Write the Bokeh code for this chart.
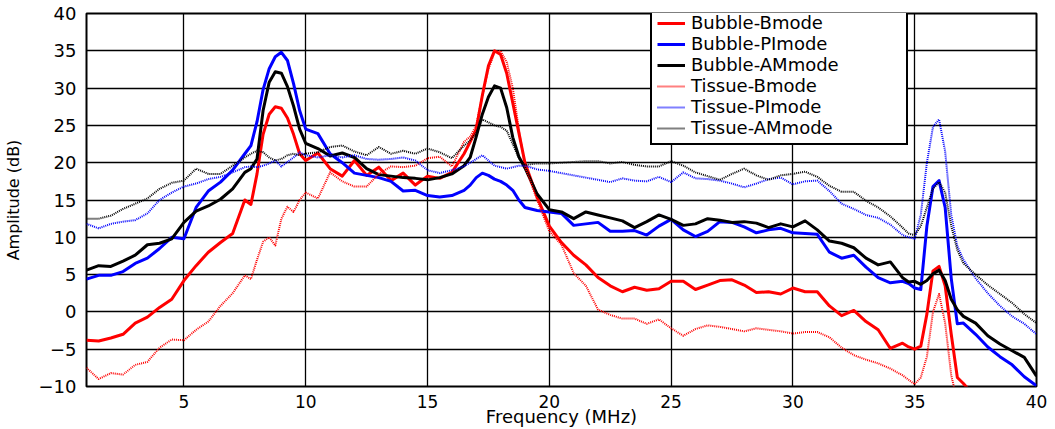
from bokeh.plotting import figure
from bokeh.models import Range1d, FixedTicker, Legend, LegendItem
from bokeh.embed import file_html
from bokeh.resources import INLINE

nan = float("nan")

freq = [1, 1.5, 2, 2.5, 3, 3.5, 4, 4.5, 5, 5.5, 6, 6.5, 7, 7.5,
        7.75, 8, 8.25, 8.5, 8.75, 9, 9.25, 9.5, 9.75, 10,
        10.5, 11, 11.5, 12, 12.5, 13, 13.5, 14, 14.5, 15, 15.5, 16, 16.5,
        16.75, 17, 17.25, 17.5, 17.75, 18, 18.25, 18.5, 18.75, 19,
        19.5, 20, 20.5, 21, 21.5, 22, 22.5, 23, 23.5, 24, 24.5, 25, 25.5, 26, 26.5,
        27, 27.5, 28, 28.5, 29, 29.5, 30, 30.5, 31, 31.5, 32, 32.5, 33, 33.5, 34, 34.5,
        34.75, 35, 35.25, 35.5, 35.75, 36, 36.25, 36.5, 36.75, 37,
        37.5, 38, 38.5, 39, 39.5, 40]

bubble_bmode = [-3.8, -3.9, -3.5, -3.0, -1.5, -0.7, 0.6, 1.7, 4.2, 6.2, 8.0, 9.3, 10.5, 15.0,
                14.4, 18.5, 23.8, 26.5, 27.5, 27.3, 26.0, 23.8, 21.2, 20.3,
                21.3, 19.2, 18.2, 20.3, 18.3, 19.4, 17.6, 18.6, 17.0, 18.2, 17.9, 18.7, 21.2,
                22.8, 24.5, 29.0, 33.0, 35.0, 34.5, 32.0, 28.0, 24.0, 20.0,
                15.4, 11.5, 9.3, 7.6, 6.3, 4.6, 3.5, 2.7, 3.3, 2.9, 3.1, 4.1, 4.1, 3.0, 3.6,
                4.2, 4.3, 3.6, 2.6, 2.7, 2.4, 3.2, 2.7, 2.7, 0.8, -0.5, 0.2, -1.3, -2.4, -4.9, -4.2,
                -4.7, -5.0, -4.6, -0.3, 5.5, 6.1, 3.5, -3.0, -8.8, -9.6,
                -11.5, nan, nan, nan, nan, nan]

bubble_pimode = [4.4, 4.9, 4.9, 5.4, 6.5, 7.2, 8.5, 10.0, 9.8, 14.0, 16.2, 17.4, 19.0, 21.2,
                 22.3, 25.5, 29.8, 32.6, 34.2, 34.8, 33.7, 30.6, 27.0, 24.5,
                 23.9, 21.2, 20.0, 18.6, 18.3, 18.0, 17.5, 16.2, 16.3, 15.6, 15.4, 15.6, 16.3,
                 17.0, 18.0, 18.6, 18.3, 17.8, 17.5, 17.0, 16.3, 15.0, 14.0,
                 13.6, 13.4, 13.2, 11.6, 11.8, 12.0, 10.8, 10.8, 10.9, 10.3, 11.5, 12.4, 11.0, 10.1, 10.8,
                 12.1, 12.0, 11.4, 10.6, 11.0, 11.2, 10.6, 10.5, 10.4, 8.0, 7.2, 7.6, 6.0, 4.6, 3.9, 4.1,
                 3.8, 3.2, 3.0, 11.5, 16.8, 17.6, 14.0, 4.5, -1.6, -1.5,
                 -3.0, -4.7, -6.0, -7.1, -8.7, -9.9]

bubble_ammode = [5.6, 6.2, 6.1, 6.8, 7.6, 9.0, 9.2, 9.8, 12.0, 13.5, 14.2, 15.1, 16.5, 18.7,
                 19.2, 20.5, 27.0, 30.8, 32.2, 32.0, 30.2, 27.6, 24.5, 22.6,
                 21.9, 20.9, 21.3, 20.7, 19.2, 18.4, 18.2, 18.0, 17.9, 17.7, 18.0, 18.5, 19.6,
                 20.7, 23.5, 26.5, 28.8, 30.3, 30.0, 27.4, 23.4, 20.8, 19.3,
                 15.8, 13.7, 13.4, 12.5, 13.4, 13.0, 12.6, 12.2, 11.3, 12.1, 13.0, 12.4, 11.6, 11.8, 12.5,
                 12.3, 12.0, 12.1, 11.9, 11.3, 11.8, 11.4, 12.2, 11.0, 9.5, 9.2, 8.6, 7.2, 6.3, 6.7, 4.6,
                 4.0, 4.1, 3.7, 4.2, 5.1, 5.6, 4.2, 1.7, 0.3, -0.6,
                 -1.5, -3.2, -4.3, -5.2, -6.1, -8.6]

tissue_bmode = [-7.5, -9.0, -8.2, -8.4, -7.1, -6.7, -4.8, -3.7, -3.8, -2.4, -1.3, 0.8, 2.5, 4.9,
                4.4, 7.0, 9.4, 10.0, 8.9, 12.5, 14.1, 13.4, 15.0, 16.0,
                15.2, 18.7, 17.5, 16.8, 16.8, 18.5, 19.5, 19.4, 19.6, 20.6, 20.8, 19.5, 22.8,
                23.5, 25.0, 29.0, 32.5, 34.8, 35.0, 33.5, 30.0, 24.5, 19.5,
                15.0, 10.8, 9.0, 5.2, 3.5, 0.3, -0.4, -0.9, -0.9, -1.6, -1.0, -2.2, -3.2, -2.3, -1.8,
                -2.0, -2.3, -2.6, -2.2, -2.4, -2.6, -2.9, -2.7, -2.7, -3.4, -4.8, -5.8, -6.4, -6.9, -7.6, -8.5,
                -9.1, -9.7, -8.8, -6.0, 0.0, 2.4, -1.5, -8.5, -12.0, nan,
                nan, nan, nan, nan, nan, nan]

tissue_pimode = [11.8, 11.2, 11.8, 12.1, 12.3, 13.2, 15.0, 16.0, 16.8, 17.2, 17.8, 18.1, 18.7, 19.4,
                 19.5, 19.4, 19.6, 19.9, 20.3, 19.5, 20.1, 20.7, 21.4, 21.0,
                 20.7, 21.0, 20.7, 21.0, 20.5, 20.4, 20.5, 20.7, 20.3, 19.0, 18.6, 19.0, 19.5,
                 20.0, 20.5, 21.0, 20.3, 19.6, 19.4, 19.2, 19.4, 19.6, 19.6,
                 19.1, 18.9, 18.6, 18.3, 18.0, 17.7, 17.4, 17.9, 17.6, 17.5, 18.1, 17.4, 18.7, 17.9, 17.8,
                 17.6, 17.2, 16.7, 17.2, 17.8, 18.0, 17.1, 17.5, 17.6, 16.2, 14.5, 13.8, 13.0, 12.6, 11.7, 10.3,
                 10.0, 9.8, 13.0, 20.0, 24.8, 25.8, 21.5, 13.0, 8.8, 7.0,
                 4.5, 2.5, 0.8, -0.6, -1.6, -3.0]

tissue_ammode = [12.5, 12.5, 12.9, 13.8, 14.5, 15.2, 16.5, 17.3, 17.6, 19.2, 18.5, 18.5, 19.6, 20.7,
                 21.2, 21.6, 21.4, 20.7, 20.3, 20.5, 21.0, 21.2, 21.0, 21.2,
                 21.4, 22.1, 22.3, 21.5, 21.0, 22.1, 21.2, 21.6, 21.2, 21.9, 21.4, 20.6, 22.3,
                 23.0, 24.0, 25.8, 25.4, 25.0, 24.8, 24.3, 22.5, 20.6, 19.7,
                 19.9, 19.9, 20.0, 20.1, 20.2, 20.2, 19.9, 20.1, 19.7, 19.5, 19.5, 20.2, 19.6, 18.7, 18.2,
                 17.7, 18.5, 19.2, 18.3, 17.7, 18.3, 18.5, 18.8, 18.1, 16.9, 16.1, 16.1, 14.9, 14.0, 12.8, 11.3,
                 10.5, 10.3, 11.5, 14.0, 16.5, 17.4, 16.0, 11.5, 8.3, 6.5,
                 5.0, 3.6, 2.4, 1.2, -0.3, -1.5]

labels = ["Bubble-Bmode", "Bubble-PImode", "Bubble-AMmode",
          "Tissue-Bmode", "Tissue-PImode", "Tissue-AMmode"]
x_ticks = [5, 10, 15, 20, 25, 30, 35, 40]
y_ticks = [-10, -5, 0, 5, 10, 15, 20, 25, 30, 35, 40]

FONT = "DejaVu Sans"

p = figure(width=1055, height=429, output_backend="svg", toolbar_location=None,
           x_range=Range1d(1, 40), y_range=Range1d(-10, 40),
           min_border_left=86, min_border_right=19, min_border_top=13, min_border_bottom=42)

p.background_fill_color = "white"
p.border_fill_color = "white"
p.outline_line_color = "black"
p.outline_line_width = 2
p.outline_line_alpha = 1

p.xaxis.ticker = FixedTicker(ticks=x_ticks)
p.yaxis.ticker = FixedTicker(ticks=y_ticks)
for g in (p.xgrid, p.ygrid):
    g.grid_line_color = "black"
    g.grid_line_width = 1.3
    g.grid_line_alpha = 1

for ax in (p.xaxis, p.yaxis):
    ax.axis_line_color = None
    ax.major_tick_line_color = None
    ax.minor_tick_line_color = None
    ax.major_label_text_font = FONT
    ax.major_label_text_color = "black"
    ax.axis_label_text_font = FONT
    ax.axis_label_text_font_style = "normal"
    ax.axis_label_text_color = "black"

p.xaxis.major_label_text_font_size = "17px"
p.yaxis.major_label_text_font_size = "18px"
p.xaxis.axis_label = "Frequency (MHz)"
p.xaxis.axis_label_text_font_size = "18px"
p.xaxis.major_label_standoff = 2
p.xaxis.axis_label_standoff = -5
p.yaxis.axis_label = "Amplitude (dB)"
p.yaxis.axis_label_text_font_size = "16px"
p.yaxis.major_label_standoff = 4
p.yaxis.axis_label_standoff = 13

series = [bubble_bmode, bubble_pimode, bubble_ammode,
          tissue_bmode, tissue_pimode, tissue_ammode]
colors = ["#ff0000", "#0000ff", "#000000", "#ff0000", "#0000ff", "#000000"]
widths = [3, 3, 3, 2, 2, 2]
dashes = ["solid", "solid", "solid", "1 1", "1 1", "1 1"]

items = []
for ys, lab, c, w, d in zip(series, labels, colors, widths, dashes):
    r = p.line(freq, ys, line_color=c, line_width=w, line_dash=d, line_join="round")
    items.append(LegendItem(label=lab, renderers=[r]))

legend = Legend(items=items, location=(564, 241))
legend.label_text_font = FONT
legend.label_text_font_size = "18px"
legend.label_text_color = "black"
legend.glyph_width = 28
legend.glyph_height = 20
legend.label_height = 20
legend.label_width = 210
legend.label_standoff = 6
legend.spacing = 0
legend.padding = 5
legend.margin = 0
legend.border_line_color = "black"
legend.border_line_width = 2
legend.border_line_alpha = 1
legend.background_fill_color = "white"
legend.background_fill_alpha = 1
p.add_layout(legend)

open("out.html", "w").write(file_html(p, INLINE))
